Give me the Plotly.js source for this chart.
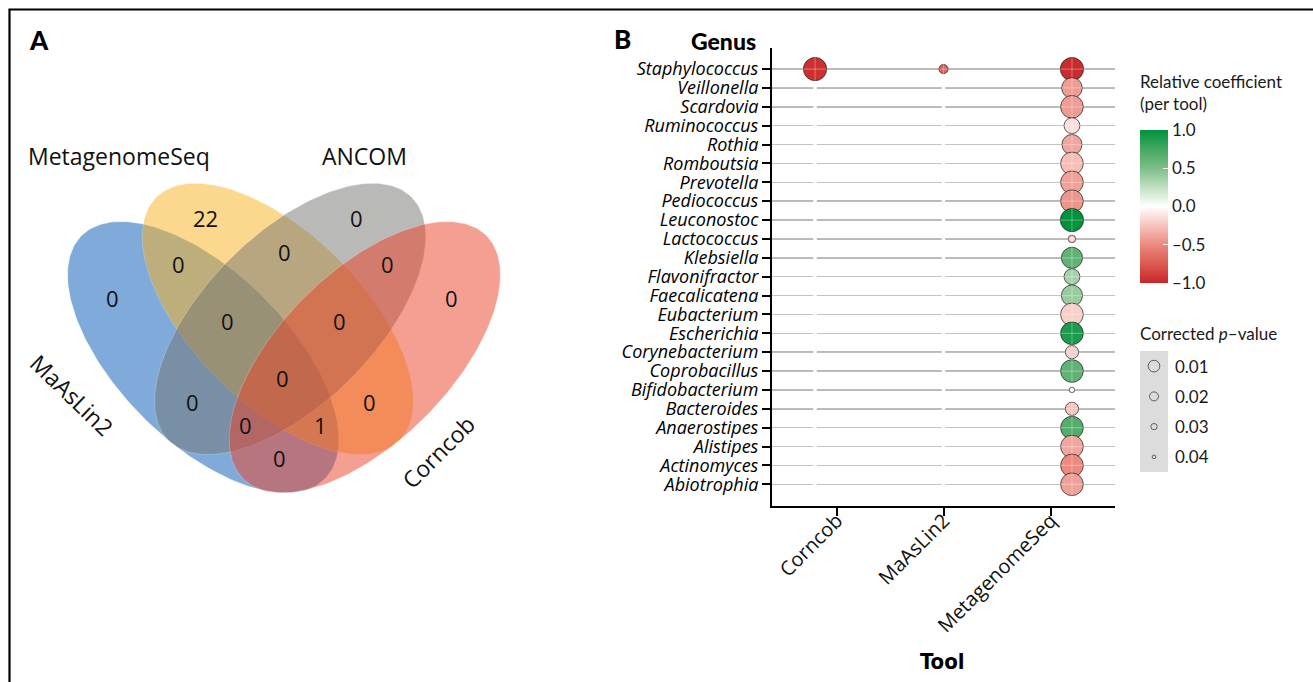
<!DOCTYPE html>
<html><head><meta charset="utf-8">
<script src="https://cdn.plot.ly/plotly-3.0.1.min.js"></script>
<style>html,body{margin:0;padding:0;background:#fff}#chart{width:1313px;height:682px}</style>
</head><body><div id="chart"></div>
<script>
const W = 1313, H = 682;

// ---------------- Panel A: Venn data ----------------
const vennSets = ['MaAsLin2', 'MetagenomeSeq', 'ANCOM', 'Corncob'];
const vennRegions = [
  'MetagenomeSeq', 'ANCOM', 'MaAsLin2&MetagenomeSeq', 'MetagenomeSeq&ANCOM', 'ANCOM&Corncob',
  'MaAsLin2', 'Corncob', 'MaAsLin2&MetagenomeSeq&ANCOM', 'MetagenomeSeq&ANCOM&Corncob', 'All four',
  'MaAsLin2&ANCOM', 'MetagenomeSeq&Corncob', 'MaAsLin2&ANCOM&Corncob', 'MaAsLin2&MetagenomeSeq&Corncob',
  'MaAsLin2&Corncob'
];
const vennCounts = [22, 0, 0, 0, 0, 0, 0, 0, 0, 0, 0, 0, 0, 1, 0];

// ---------------- Panel B: dot plot data ----------------
const genus = ['Staphylococcus', 'Veillonella', 'Scardovia', 'Ruminococcus', 'Rothia', 'Romboutsia',
  'Prevotella', 'Pediococcus', 'Leuconostoc', 'Lactococcus', 'Klebsiella', 'Flavonifractor',
  'Faecalicatena', 'Eubacterium', 'Escherichia', 'Corynebacterium', 'Coprobacillus',
  'Bifidobacterium', 'Bacteroides', 'Anaerostipes', 'Alistipes', 'Actinomyces', 'Abiotrophia'];
const tools = ['Corncob', 'MaAsLin2', 'MetagenomeSeq'];

const pointGenus = ['Staphylococcus', 'Staphylococcus'].concat(genus);
const pointTool = ['Corncob', 'MaAsLin2'].concat(genus.map(() => 'MetagenomeSeq'));
const pointCoef = [-0.95, -0.70,
  -0.97, -0.42, -0.42, -0.13, -0.38, -0.27, -0.40, -0.45, 1.00, -0.20, 0.62, 0.35,
  0.40, -0.20, 0.90, -0.20, 0.62, -0.04, -0.25, 0.68, -0.38, -0.50, -0.40];
const pointP = [0.009, 0.036,
  0.009, 0.014, 0.010, 0.023, 0.015, 0.010, 0.010, 0.010, 0.009, 0.039, 0.013, 0.023,
  0.013, 0.010, 0.010, 0.028, 0.010, 0.043, 0.028, 0.010, 0.010, 0.010, 0.010];

const legendP = [0.01, 0.02, 0.03, 0.04];
const legendPLabels = ['0.01', '0.02', '0.03', '0.04'];
const coefTickVals = [-1, -0.5, 0, 0.5, 1];
const coefTickText = ['\u20131.0', '\u20130.5', '0.0', '0.5', '1.0'];

// ---------------- layout / geometry constants ----------------
const vennGeom = [ // centre, semi-axes, rotation (deg, screen coords)
  {cx: 203.2, cy: 357.2, a: 172, b: 85, rot: 45},
  {cx: 277.8, cy: 318.9, a: 172, b: 85, rot: 45},
  {cx: 290.2, cy: 318.9, a: 172, b: 85, rot: -45},
  {cx: 364.8, cy: 357.2, a: 172, b: 85, rot: -45}
];
const vennColors = ['#0157B7', '#FBB31F', '#757571', '#ED4127'];
const vennLabelPos = [[205, 218], [356, 218], [178, 264], [284, 252], [387, 264],
  [112, 298], [451, 298], [227, 321], [339, 321], [282, 378],
  [192, 402], [369, 402], [245, 425], [320, 425], [279, 458]];
const vennSetLabelPos = [[72, 395, 44], [119, 156, 0], [364, 156, 0], [438, 452, -45]];

const colorscale = [
  [0.0, '#C82628'], [0.125, '#DA5A52'], [0.25, '#EA8A80'], [0.375, '#F6C4BD'],
  [0.5, '#FFFFFF'], [0.625, '#C0E0C3'], [0.75, '#7DBE87'], [0.875, '#43A862'], [1.0, '#00923C']
];
const plotSizeScale = 1.94;
function legendDiam(p) { return Math.max(14.4 - 270 * p, 1.5); }

const px = v => v / W, py = v => 1 - v / H;
const xDom = [px(772), px(1115)];
const yDom = [py(506), py(48.3)];
const xRange = [-0.607, 2.6];
const xDotRange = [-0.335, 2.335];
const yRange = [23.15, -1.1];

const traces = [];

// Venn ellipses
vennGeom.forEach((g, i) => {
  const xs = [], ys = [];
  const r = g.rot * Math.PI / 180;
  for (let k = 0; k <= 240; k++) {
    const t = 2 * Math.PI * k / 240;
    xs.push(g.cx + g.a * Math.cos(t) * Math.cos(r) - g.b * Math.sin(t) * Math.sin(r));
    ys.push(g.cy + g.a * Math.cos(t) * Math.sin(r) + g.b * Math.sin(t) * Math.cos(r));
  }
  traces.push({
    type: 'scatter', mode: 'lines', x: xs, y: ys, xaxis: 'x2', yaxis: 'y2',
    fill: 'toself', fillcolor: vennColors[i], line: {color: 'rgba(255,255,255,0.7)', width: 0.6},
    opacity: 0.5, hoverinfo: 'skip', name: vennSets[i]
  });
});

// dummies for main axis and label axis
traces.push({type: 'scatter', mode: 'markers', x: [0], y: [0], xaxis: 'x', yaxis: 'y',
  marker: {opacity: 0}, hoverinfo: 'skip'});
traces.push({type: 'scatter', mode: 'markers', x: [0], y: [0], xaxis: 'x5', yaxis: 'y',
  marker: {opacity: 0}, hoverinfo: 'skip'});

// white vertical separators (under the dots)
const sepX = [], sepY = [];
tools.forEach((t, i) => { sepX.push(i, i, null); sepY.push(yRange[0], yRange[1], null); });
traces.push({type: 'scatter', mode: 'lines', x: sepX, y: sepY, xaxis: 'x3', yaxis: 'y',
  line: {color: '#FFFFFF', width: 3.5}, hoverinfo: 'skip'});

// bubbles
traces.push({
  type: 'scatter', mode: 'markers', xaxis: 'x3', yaxis: 'y',
  x: pointTool.map(t => tools.indexOf(t)),
  y: pointGenus.map(g => genus.indexOf(g)),
  marker: {
    size: pointP.map(p => plotSizeScale * legendDiam(p)), opacity: 1,
    color: pointCoef, colorscale: colorscale, cmin: -1, cmax: 1,
    line: {color: 'rgba(30,30,30,0.9)', width: 0.8},
    colorbar: {
      x: px(1140), xanchor: 'left', xpad: 0, y: 1 - 206.5 / H, yanchor: 'middle', ypad: 0,
      len: 153, lenmode: 'pixels', thickness: 28, thicknessmode: 'pixels',
      outlinewidth: 0, tickvals: coefTickVals, ticktext: coefTickText,
      ticks: 'inside', ticklen: 5, tickcolor: '#FFFFFF', tickwidth: 1.2,
      tickfont: {family: 'Lato, sans-serif', size: 17, color: '#1a1a1a'}, title: {text: ''}
    }
  },
  hoverinfo: 'skip'
});

// faint light cross overlay
const ovX = [], ovY = [];
genus.forEach((g, i) => { ovX.push(xDotRange[0], xDotRange[1], null); ovY.push(i, i, null); });
tools.forEach((t, i) => { ovX.push(i, i, null); ovY.push(yRange[0], yRange[1], null); });
traces.push({type: 'scatter', mode: 'lines', x: ovX, y: ovY, xaxis: 'x3', yaxis: 'y',
  line: {color: 'rgba(255,255,255,0.28)', width: 1.2}, hoverinfo: 'skip'});

// size legend keys
traces.push({type: 'scatter', mode: 'markers', xaxis: 'x4', yaxis: 'y4',
  x: legendP.map(() => 0.5), y: legendP.map((p, i) => i),
  marker: {size: legendP.map(legendDiam), color: 'rgba(0,0,0,0)', opacity: 1,
    line: {color: '#404040', width: 0.8}}, hoverinfo: 'skip'});

const annotations = [];
vennCounts.forEach((c, i) => {
  annotations.push({xref: 'x2', yref: 'y2', x: vennLabelPos[i][0], y: vennLabelPos[i][1],
    text: String(c), showarrow: false, xanchor: 'center', yanchor: 'middle',
    font: {family: 'Open Sans, sans-serif', size: 22, color: '#111'}});
});
vennSets.forEach((s, i) => {
  annotations.push({xref: 'x2', yref: 'y2', x: vennSetLabelPos[i][0], y: vennSetLabelPos[i][1],
    text: s, textangle: vennSetLabelPos[i][2], showarrow: false, xanchor: 'center', yanchor: 'middle',
    font: {family: 'Open Sans, sans-serif', size: 23, color: '#111'}});
});

const bold = (t, x, y, size, anchor, fam) => annotations.push({xref: 'paper', yref: 'paper',
  x: px(x), y: py(y), text: t, showarrow: false, xanchor: anchor, yanchor: 'middle',
  font: {family: fam || 'Lato, sans-serif', size: size, weight: 900, color: '#000'}});
bold('A', 27, 40, 26, 'left');
bold('B', 612, 39, 26, 'left');
bold('Genus', 758, 41, 23, 'right');
bold('Tool', 943, 661, 22, 'center', 'Liberation Sans Narrow, DejaVu Sans Condensed, Roboto Condensed, sans-serif');

const legTxt = (t, x, y) => annotations.push({xref: 'paper', yref: 'paper', x: px(x), y: py(y),
  text: t, showarrow: false, xanchor: 'left', yanchor: 'middle',
  font: {family: 'Lato, sans-serif', size: 17, color: '#1a1a1a'}});
legTxt('Relative coefficient', 1138, 81);
legTxt('(per tool)', 1138, 104);
legTxt('Corrected <i>p</i>\u2013value', 1138, 333);
legendPLabels.forEach((l, i) => annotations.push({xref: 'paper', yref: 'y4', x: px(1173), y: i,
  text: l, showarrow: false, xanchor: 'left', yanchor: 'middle',
  font: {family: 'Lato, sans-serif', size: 17, color: '#1a1a1a'}}));

const layout = {
  width: W, height: H, margin: {l: 0, r: 0, t: 0, b: 0, pad: 0, autoexpand: false},
  paper_bgcolor: '#FFFFFF', plot_bgcolor: 'rgba(0,0,0,0)', showlegend: false,
  xaxis: {domain: xDom, range: xRange, anchor: 'y', tickmode: 'array', tickvals: tools.map((t, i) => i),
    ticktext: tools.map(() => ''), ticks: 'outside', ticklen: 8, tickwidth: 2, tickcolor: '#000',
    showline: true, linecolor: '#000', linewidth: 2, showgrid: false, zeroline: false, fixedrange: true},
  // label-only axis for the rotated tool names, sitting just under the ticks
  xaxis5: {domain: xDom, range: xRange, overlaying: 'x', anchor: 'free', position: py(504), side: 'bottom',
    tickmode: 'array', tickvals: tools.map((t, i) => i), ticktext: tools, tickangle: -45,
    ticks: '', showline: false, showgrid: false, zeroline: false, fixedrange: true,
    tickfont: {family: 'Open Sans, sans-serif', size: 20, color: '#111'}},
  xaxis3: {domain: xDom, range: xDotRange, overlaying: 'x', anchor: 'y', visible: false, fixedrange: true},
  yaxis: {domain: yDom, range: yRange, anchor: 'x', tickmode: 'array', tickvals: genus.map((g, i) => i),
    ticktext: genus, ticks: 'outside', ticklen: 8, tickwidth: 2, tickcolor: '#000',
    showline: true, linecolor: '#000', linewidth: 2, showgrid: true, gridcolor: '#ADADAD', gridwidth: 1.5,
    zeroline: false, fixedrange: true,
    tickfont: {family: 'Open Sans, sans-serif', size: 18, style: 'italic', color: '#000'}},
  xaxis2: {domain: [0, px(600)], range: [0, 600], anchor: 'y2', visible: false, fixedrange: true},
  yaxis2: {domain: [0, 1], range: [682, 0], anchor: 'x2', visible: false, fixedrange: true},
  xaxis4: {domain: [px(1140), px(1168)], range: [0, 1], anchor: 'y4', visible: false, fixedrange: true},
  yaxis4: {domain: [py(472), py(351)], range: [3.5, -0.5], anchor: 'x4', visible: false, fixedrange: true},
  shapes: [
    {type: 'rect', xref: 'paper', yref: 'paper', x0: px(9.5), x1: 1.1, y0: py(9.5), y1: -0.1,
      line: {color: '#000', width: 2.2}, fillcolor: 'rgba(0,0,0,0)', layer: 'above'},
    {type: 'rect', xref: 'x4 domain', yref: 'y4 domain', x0: 0, x1: 1, y0: 0, y1: 1,
      fillcolor: '#DCDCDC', line: {width: 0}, layer: 'below'}
  ],
  annotations: annotations
};

Plotly.newPlot('chart', traces, layout, {staticPlot: true, displayModeBar: false});
</script></body></html>
